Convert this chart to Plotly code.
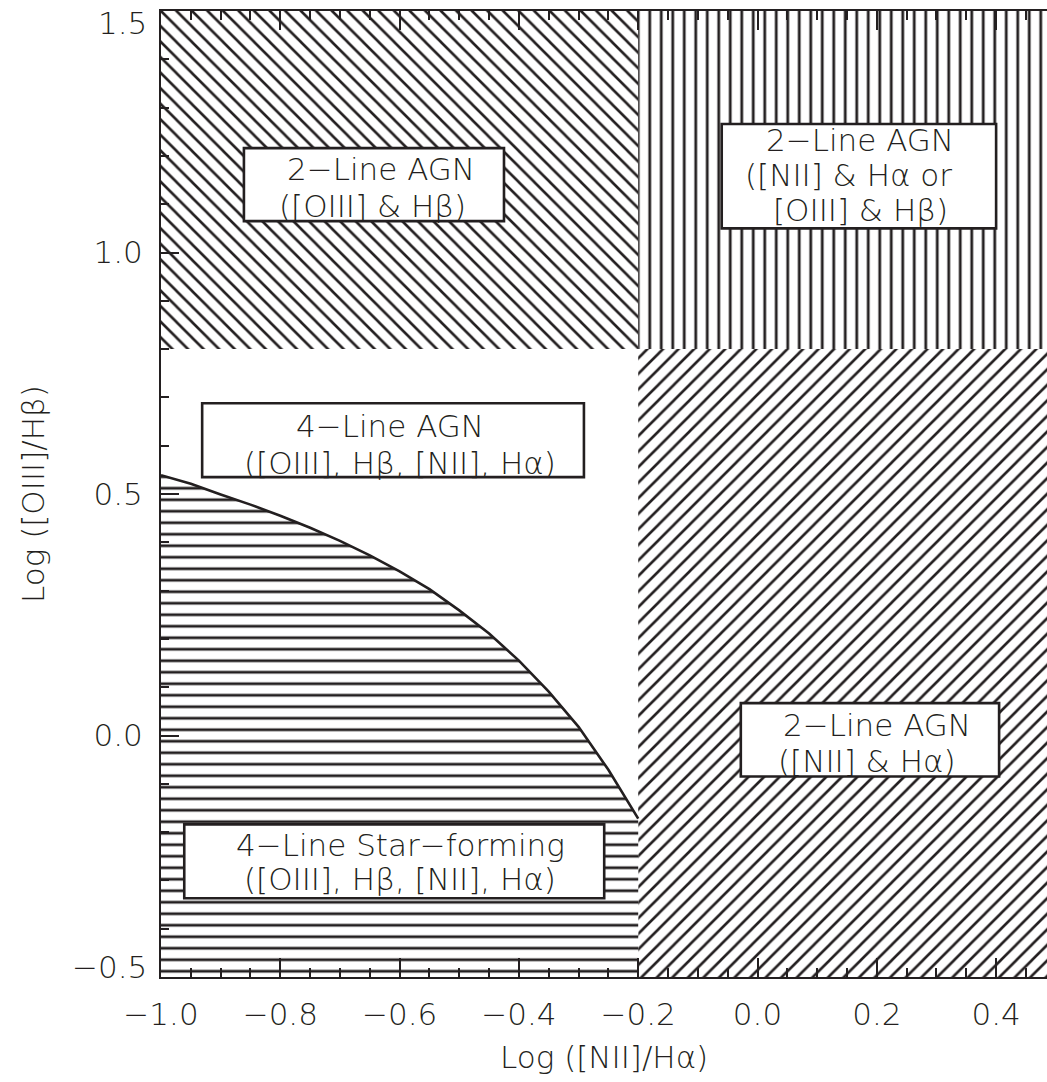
import plotly.graph_objects as go

# Diagnostic boundaries (log line ratios)
nii_split = -0.2      # log([NII]/Hα) limit for 2-line AGN
oiii_split = 0.8      # log([OIII]/Hβ) limit for 2-line AGN
x_lim = [-1.0, 0.5]
y_lim = [-0.5, 1.5]

# Star-forming / AGN demarcation curve
curve_x = [-1.0, -0.95, -0.9, -0.85, -0.8, -0.75, -0.7, -0.65, -0.6,
           -0.55, -0.5, -0.45, -0.4, -0.35, -0.3, -0.25, -0.2]
curve_y = [0.539, 0.521, 0.499, 0.478, 0.455, 0.430, 0.403, 0.373, 0.340,
           0.303, 0.259, 0.211, 0.155, 0.091, 0.018, -0.071, -0.172]

x_ticks = [-1.0, -0.8, -0.6, -0.4, -0.2, 0.0, 0.2, 0.4]
y_ticks = [-0.5, 0.0, 0.5, 1.0, 1.5]

# Region labels: text lines, box extent (data units), line anchors (data units)
labels = [
    dict(lines=["2−Line AGN", "([OIII] & Hβ)"],
         box=(-0.861, -0.425, 1.065, 1.216),
         pos=[(-0.631, 1.172), (-0.645, 1.097)]),
    dict(lines=["2−Line AGN", "([NII] & Hα or", "[OIII] & Hβ)"],
         box=(-0.060, 0.400, 1.050, 1.266),
         pos=[(0.172, 1.232), (0.152, 1.160), (0.173, 1.089)]),
    dict(lines=["4−Line AGN", "([OIII], Hβ, [NII], Hα)"],
         box=(-0.931, -0.291, 0.535, 0.688),
         pos=[(-0.616, 0.640), (-0.599, 0.564)]),
    dict(lines=["2−Line AGN", "([NII] & Hα)"],
         box=(-0.028, 0.405, -0.085, 0.067),
         pos=[(0.200, 0.022), (0.182, -0.052)]),
    dict(lines=["4−Line Star−forming", "([OIII], Hβ, [NII], Hα)"],
         box=(-0.961, -0.257, -0.337, -0.184),
         pos=[(-0.598, -0.226), (-0.599, -0.297)]),
]

INK = "#231f20"
FONT = "DejaVu Sans"
FS = 31


def tfont(size=FS):
    return dict(family=FONT, size=size, color=INK, weight=200)


fig = go.Figure()


def hatched(xs, ys, shape, size):
    fig.add_trace(go.Scatter(
        x=xs, y=ys, mode="lines", fill="toself",
        line=dict(width=0, color="rgba(0,0,0,0)"),
        fillcolor="white",
        fillpattern=dict(shape=shape, size=size, solidity=0.24,
                         fgcolor=INK, bgcolor="white", fillmode="replace"),
        hoverinfo="skip", showlegend=False))


# 2-line AGN from [OIII] & Hβ only
hatched([x_lim[0], nii_split, nii_split, x_lim[0]],
        [oiii_split, oiii_split, y_lim[1], y_lim[1]], "\\", 11)
# 2-line AGN from either pair
hatched([nii_split, x_lim[1], x_lim[1], nii_split],
        [oiii_split, oiii_split, y_lim[1], y_lim[1]], "|", 11.5)
# 2-line AGN from [NII] & Hα only
hatched([nii_split, x_lim[1], x_lim[1], nii_split],
        [y_lim[0], y_lim[0], oiii_split, oiii_split], "/", 11)
# 4-line star-forming region below the curve
hatched(curve_x + [nii_split, x_lim[0]],
        curve_y + [y_lim[0], y_lim[0]], "-", 11.5)

# Demarcation curve
fig.add_trace(go.Scatter(x=curve_x, y=curve_y, mode="lines",
                         line=dict(color=INK, width=2.6),
                         hoverinfo="skip", showlegend=False))

for lab in labels:
    x0, x1, y0, y1 = lab["box"]
    fig.add_shape(type="rect", xref="x", yref="y", x0=x0, x1=x1, y0=y0, y1=y1,
                  fillcolor="white", line=dict(color=INK, width=2.6),
                  layer="above")
    for text, (tx, ty) in zip(lab["lines"], lab["pos"]):
        fig.add_annotation(x=tx, y=ty, xref="x", yref="y", text=text,
                           showarrow=False, xanchor="center", yanchor="middle",
                           font=tfont())

# y-axis labels at the range ends sit just inside the frame
fig.add_annotation(x=0, xref="paper", y=y_ticks[-1], yref="y",
                   text=f"{y_ticks[-1]:.1f}", showarrow=False,
                   xanchor="right", yanchor="middle", xshift=-12, yshift=-12,
                   font=tfont())
fig.add_annotation(x=0, xref="paper", y=y_ticks[0], yref="y",
                   text=f"−{abs(y_ticks[0]):.1f}", showarrow=False,
                   xanchor="right", yanchor="middle", xshift=-12, yshift=10,
                   font=tfont())

# Axis titles
fig.add_annotation(x=0.5, xref="paper", y=0, yref="paper",
                   text="Log ([NII]/Hα)", showarrow=False,
                   xanchor="center", yanchor="middle", yshift=-80,
                   font=tfont())
fig.add_annotation(x=0, xref="paper", y=0.5, yref="paper",
                   text="Log ([OIII]/Hβ)", showarrow=False, textangle=-90,
                   xanchor="center", yanchor="middle", xshift=-128,
                   font=tfont())

y_text = ["" if v in (y_ticks[0], y_ticks[-1]) else f"{v:.1f}" for v in y_ticks]

fig.update_xaxes(
    range=[-1.0, 0.4853], tickvals=x_ticks, tickformat=".1f",
    ticks="inside", ticklen=19, tickwidth=1.6, tickcolor=INK,
    minor=dict(dtick=0.05, tick0=-1.0, ticks="inside", ticklen=9,
               tickwidth=1.6, tickcolor=INK),
    showline=True, linecolor=INK, linewidth=2, mirror="allticks",
    showgrid=False, zeroline=False, ticklabelstandoff=9,
    tickfont=tfont(),
)
fig.update_yaxes(
    range=y_lim, tickvals=y_ticks, ticktext=y_text,
    ticks="inside", ticklen=18, tickwidth=1.6, tickcolor=INK,
    minor=dict(dtick=0.1, tick0=-0.5, ticks="inside", ticklen=8,
               tickwidth=1.6, tickcolor=INK),
    showline=True, linecolor=INK, linewidth=2, mirror=False,
    showgrid=False, zeroline=False, ticklabelstandoff=10,
    tickfont=tfont(),
)

fig.update_layout(
    width=1047, height=1082,
    margin=dict(l=161, r=0, t=11, b=105, autoexpand=False),
    paper_bgcolor="white", plot_bgcolor="white",
    showlegend=False,
)

fig.write_html("out.html")
